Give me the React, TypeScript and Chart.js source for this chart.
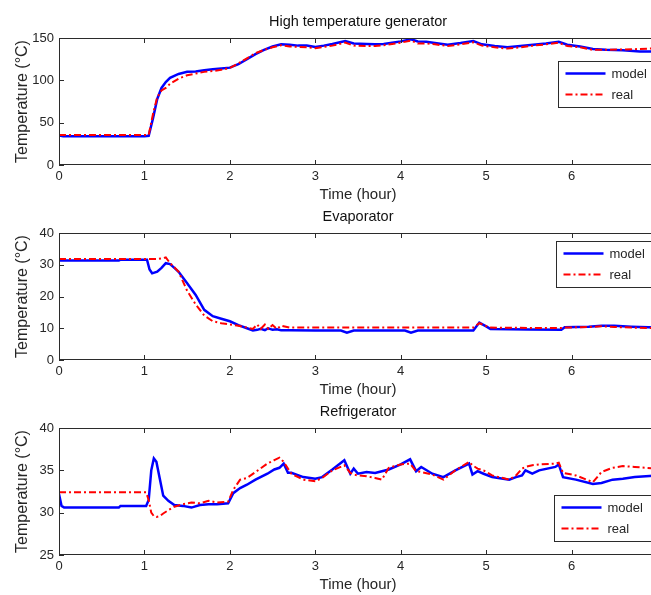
import React, { useEffect, useRef } from "react";
import { Chart, registerables } from "chart.js";

Chart.register(...registerables);

// ---------------- data ----------------
const genTime = [0, 0.05, 0.5, 1.0, 1.05, 1.1, 1.15, 1.2, 1.25, 1.3, 1.4, 1.5, 1.6, 1.7, 1.8, 1.9, 2.0, 2.1, 2.2, 2.3, 2.4, 2.5, 2.6, 2.7, 2.8, 2.9, 3.0, 3.1, 3.2, 3.35, 3.45, 3.6, 3.7, 3.8, 3.9, 4.0, 4.12, 4.2, 4.3, 4.4, 4.55, 4.7, 4.85, 4.95, 5.1, 5.25, 5.4, 5.55, 5.7, 5.85, 5.95, 6.1, 6.25, 6.4, 6.6, 6.8, 7.0];
const genModel = [35, 34, 34, 34, 34.5, 55, 78, 91, 98, 103, 107.5, 110, 110.5, 112, 113, 114, 115, 119, 125, 131, 136, 140, 142.5, 142, 141, 141, 139.5, 141, 143, 146.5, 143.5, 143, 142.5, 143, 144.5, 146, 148.5, 146, 145.5, 144, 142, 144, 146.5, 142.5, 140.5, 139, 140.5, 142, 143.5, 145.5, 142, 140, 137, 136, 135.5, 134, 134];
const genReal = [35.5, 35.5, 35.5, 35.5, 35.5, 60, 80, 88, 91, 96, 102, 106, 108, 110, 111, 112.5, 114.5, 120, 126, 132, 136, 139, 141.5, 140, 139.5, 139, 138, 139.5, 141, 144.5, 141, 140.5, 140.5, 141.5, 143, 144.5, 147, 143.5, 143.5, 142.5, 140.5, 142.5, 145, 141, 139, 137.5, 139, 141, 142.5, 144.5, 140.5, 139, 136, 136, 136.5, 137, 138];

const evapTime = [0, 0.7, 0.72, 1.03, 1.06, 1.09, 1.15, 1.2, 1.25, 1.3, 1.35, 1.4, 1.5, 1.6, 1.7, 1.8, 1.9, 2.0, 2.1, 2.2, 2.27, 2.32, 2.36, 2.41, 2.45, 2.5, 2.55, 2.6, 2.7, 3.0, 3.3, 3.37, 3.45, 4.05, 4.12, 4.2, 4.85, 4.92, 5.0, 5.05, 5.5, 5.88, 5.92, 6.2, 6.35, 6.5, 6.7, 7.0];
const evapModel = [31.3, 31.3, 31.6, 31.6, 28.5, 27.3, 27.8, 29, 30.5, 30.2, 29.0, 27.8, 24.2, 20.5, 15.8, 13.8, 13.0, 12.2, 11.0, 10.0, 9.3, 9.5, 9.8, 9.4, 10, 9.5, 9.7, 9.4, 9.4, 9.3, 9.3, 8.6, 9.3, 9.3, 8.6, 9.3, 9.3, 11.8, 10.6, 9.8, 9.6, 9.5, 10.3, 10.5, 10.8, 10.8, 10.5, 10.2];
const evapReal = [31.8, 31.8, 31.8, 31.8, 31.8, 31.8, 31.8, 32, 32.3, 30.5, 29.2, 27.8, 21.8, 17.5, 14, 12.2, 11.6, 11.2, 10.8, 10.2, 9.8, 11.2, 9.8, 11.2, 9.8, 11.0, 9.8, 10.8, 10.2, 10.2, 10.2, 10.2, 10.2, 10.2, 10.2, 10.2, 10.2, 11.6, 10.7, 10.2, 10.1, 10.1, 10.2, 10.4, 10.6, 10.4, 10.2, 10.0];

const refTime = [0, 0.03, 0.06, 0.7, 0.72, 1.02, 1.05, 1.08, 1.11, 1.14, 1.18, 1.22, 1.28, 1.35, 1.45, 1.55, 1.65, 1.75, 1.85, 1.98, 2.04, 2.12, 2.2, 2.3, 2.44, 2.52, 2.58, 2.63, 2.68, 2.72, 2.86, 3.0, 3.08, 3.2, 3.34, 3.41, 3.45, 3.5, 3.6, 3.7, 3.78, 3.86, 4.0, 4.11, 4.18, 4.24, 4.37, 4.5, 4.64, 4.8, 4.84, 4.9, 4.97, 5.07, 5.27, 5.35, 5.42, 5.46, 5.54, 5.62, 5.81, 5.85, 5.9, 6.05, 6.25, 6.35, 6.48, 6.6, 6.74, 7.0];
const refModel = [32.2, 30.8, 30.6, 30.6, 30.8, 30.8, 31.5, 35.0, 36.4, 36.0, 34.0, 32.0, 31.4, 30.9, 30.8, 30.6, 30.9, 31.0, 31.0, 31.1, 32.3, 32.9, 33.3, 33.9, 34.6, 35.1, 35.3, 35.8, 34.7, 34.7, 34.2, 34.0, 34.2, 35.1, 36.2, 34.6, 35.2, 34.6, 34.8, 34.7, 34.9, 35.1, 35.7, 36.3, 34.9, 35.4, 34.6, 34.2, 35.0, 35.8, 34.5, 34.9, 34.6, 34.2, 33.9, 34.2, 34.4, 35.0, 34.6, 35.0, 35.4, 35.7, 34.2, 33.9, 33.4, 33.5, 33.9, 34.0, 34.2, 34.4];
const refReal = [32.4, 32.4, 32.4, 32.4, 32.4, 32.4, 31.5, 30.0, 29.6, 29.5, 29.6, 29.9, 30.3, 30.7, 31.0, 31.2, 31.1, 31.4, 31.2, 31.3, 32.7, 33.9, 34.1, 34.8, 35.8, 36.2, 36.5, 36.0, 35.2, 34.6, 33.9, 33.7, 34.1, 35.0, 35.6, 34.7, 34.5, 34.4, 34.3, 34.1, 33.9, 35.3, 35.7, 35.8, 34.9, 34.8, 34.5, 33.9, 35.0, 36.0, 35.6, 35.2, 35.0, 34.4, 33.9, 34.4, 35.2, 35.4, 35.6, 35.7, 35.8, 35.9, 34.7, 34.4, 33.6, 34.8, 35.3, 35.5, 35.4, 35.2];

const xTickValues = [0, 1, 2, 3, 4, 5, 6];
const genYTicks = [0, 50, 100, 150];
const evapYTicks = [0, 10, 20, 30, 40];
const refYTicks = [25, 30, 35, 40];

const panelTitles = ["High temperature generator", "Evaporator", "Refrigerator"];
const seriesLabels = ["model", "real"];
const xTitle = "Time (hour)";
const yTitle = "Temperature (\u00B0C)";

// ---------------- styling / layout ----------------
const SANS = '"Liberation Sans", Arial, Helvetica, sans-serif';
const CANVAS_W = 680;
const CANVAS_H = 595;
const PLOT_LEFT = 59;
const PLOT_RIGHT = 657;
const XSCALE_H = 39;
const TITLE_H = 17.4 + 7; // lineHeight(14.5*1.2) + padding bottom
const TEXT = "#262626";

const matlabPlugin = {
  id: "matlabBox",
  afterDatasetsDraw(chart: any, _args: any, opts: any) {
    const { ctx, chartArea: a, scales } = chart;
    ctx.save();
    ctx.strokeStyle = "#2b2b2b";
    ctx.lineWidth = 1;
    ctx.strokeRect(a.left + 0.5, a.top + 0.5, a.right - a.left - 1, a.bottom - a.top - 1);
    const TL = 5;
    ctx.beginPath();
    for (const t of scales.x.ticks) {
      const px = Math.round(scales.x.getPixelForValue(t.value)) + 0.5;
      ctx.moveTo(px, a.bottom);
      ctx.lineTo(px, a.bottom - TL);
      ctx.moveTo(px, a.top);
      ctx.lineTo(px, a.top + TL);
    }
    for (const t of scales.y.ticks) {
      const py = Math.round(scales.y.getPixelForValue(t.value)) + 0.5;
      ctx.moveTo(a.left, py);
      ctx.lineTo(a.left + TL, py);
      ctx.moveTo(a.right, py);
      ctx.lineTo(a.right - TL, py);
    }
    ctx.stroke();

    // legend
    const lx = Math.round(opts.left) + 0.5;
    const ly = Math.round(a.top + opts.top) + 0.5;
    const lw = a.right - 4 - lx;
    const lh = 46;
    ctx.fillStyle = "#ffffff";
    ctx.fillRect(lx, ly, lw, lh);
    ctx.strokeStyle = "#2b2b2b";
    ctx.strokeRect(lx, ly, lw, lh);
    const items = chart.data.datasets
      .slice()
      .sort((d1: any, d2: any) => d1.legendIndex - d2.legendIndex);
    items.forEach((ds: any, i: number) => {
      const yy = ly + 12 + i * 21;
      ctx.beginPath();
      ctx.strokeStyle = ds.borderColor;
      ctx.lineWidth = ds.borderWidth;
      ctx.setLineDash(ds.borderDash || []);
      ctx.moveTo(lx + 7, yy);
      ctx.lineTo(lx + 47, yy);
      ctx.stroke();
      ctx.setLineDash([]);
      ctx.fillStyle = TEXT;
      ctx.font = `13px ${SANS}`;
      ctx.textBaseline = "middle";
      ctx.textAlign = "left";
      ctx.fillText(ds.label, lx + 53, yy + 0.5);
    });
    ctx.restore();
  },
};

type PanelCfg = {
  title: string;
  time: number[];
  model: number[];
  real: number[];
  yMin: number;
  yMax: number;
  yTicks: number[];
  plotTop: number;
  plotBottom: number;
  legendLeft: number;
  legendTop: number;
};

const panels: PanelCfg[] = [
  { title: panelTitles[0], time: genTime, model: genModel, real: genReal, yMin: 0, yMax: 150, yTicks: genYTicks, plotTop: 38, plotBottom: 165, legendLeft: 558, legendTop: 22.5 },
  { title: panelTitles[1], time: evapTime, model: evapModel, real: evapReal, yMin: 0, yMax: 40, yTicks: evapYTicks, plotTop: 233, plotBottom: 360, legendLeft: 556, legendTop: 8 },
  { title: panelTitles[2], time: refTime, model: refModel, real: refReal, yMin: 25, yMax: 40, yTicks: refYTicks, plotTop: 428, plotBottom: 555, legendLeft: 554, legendTop: 67 },
];

function Panel({ cfg }: { cfg: PanelCfg }) {
  const ref = useRef<HTMLCanvasElement | null>(null);
  useEffect(() => {
    if (!ref.current) return;
    const chart = new Chart(ref.current, {
      type: "line",
      data: {
        datasets: [
          {
            label: seriesLabels[1],
            legendIndex: 1,
            data: cfg.time.map((t, i) => ({ x: t, y: cfg.real[i] })),
            borderColor: "#ff0000",
            borderWidth: 2,
            borderDash: [7, 3, 2, 3],
            pointRadius: 0,
            tension: 0,
            fill: false,
            order: 0,
          } as any,
          {
            label: seriesLabels[0],
            legendIndex: 0,
            data: cfg.time.map((t, i) => ({ x: t, y: cfg.model[i] })),
            borderColor: "#0000ff",
            borderWidth: 2.5,
            pointRadius: 0,
            tension: 0,
            fill: false,
            order: 1,
          } as any,
        ],
      },
      options: {
        responsive: false,
        animation: false,
        events: [],
        layout: {
          padding: {
            top: cfg.plotTop - TITLE_H,
            bottom: CANVAS_H - cfg.plotBottom - XSCALE_H,
            left: 0,
            right: CANVAS_W - PLOT_RIGHT,
          },
        },
        plugins: {
          legend: { display: false },
          tooltip: { enabled: false },
          title: {
            display: true,
            text: cfg.title,
            fullSize: false,
            color: "#111",
            font: { family: SANS, size: 14.5, weight: "normal" },
            padding: { top: 0, bottom: 7 },
          },
          matlabBox: { left: cfg.legendLeft, top: cfg.legendTop },
        } as any,
        scales: {
          x: {
            type: "linear",
            min: 0,
            max: 7,
            afterFit: (s: any) => {
              s.height = XSCALE_H;
            },
            afterBuildTicks: (s: any) => {
              s.ticks = xTickValues.map((v) => ({ value: v }));
            },
            grid: { display: false, drawTicks: false },
            border: { display: false },
            ticks: {
              color: TEXT,
              padding: 4,
              maxRotation: 0,
              autoSkip: false,
              font: { family: SANS, size: 13 },
            },
            title: {
              display: true,
              text: xTitle,
              color: TEXT,
              font: { family: SANS, size: 15 },
              padding: { top: 0, bottom: 0 },
            },
          },
          y: {
            type: "linear",
            min: cfg.yMin,
            max: cfg.yMax,
            afterFit: (s: any) => {
              s.width = PLOT_LEFT;
            },
            afterBuildTicks: (s: any) => {
              s.ticks = cfg.yTicks.map((v) => ({ value: v }));
            },
            grid: { display: false, drawTicks: false },
            border: { display: false },
            ticks: {
              color: TEXT,
              padding: 5,
              autoSkip: false,
              font: { family: SANS, size: 13 },
            },
            title: {
              display: true,
              text: yTitle,
              color: TEXT,
              font: { family: SANS, size: 16 },
              padding: { top: 12.5, bottom: 0 },
            },
          },
        },
      },
      plugins: [matlabPlugin as any],
    });
    return () => chart.destroy();
  }, [cfg]);
  return (
    <canvas
      ref={ref}
      width={CANVAS_W}
      height={CANVAS_H}
      style={{ position: "absolute", left: 0, top: 0, width: CANVAS_W, height: CANVAS_H }}
    />
  );
}

export default function App() {
  return (
    <div
      style={{
        position: "absolute",
        left: 0,
        top: 0,
        width: 651,
        height: 595,
        overflow: "hidden",
        background: "#ffffff",
      }}
    >
      {panels.map((p, i) => (
        <Panel key={i} cfg={p} />
      ))}
    </div>
  );
}
